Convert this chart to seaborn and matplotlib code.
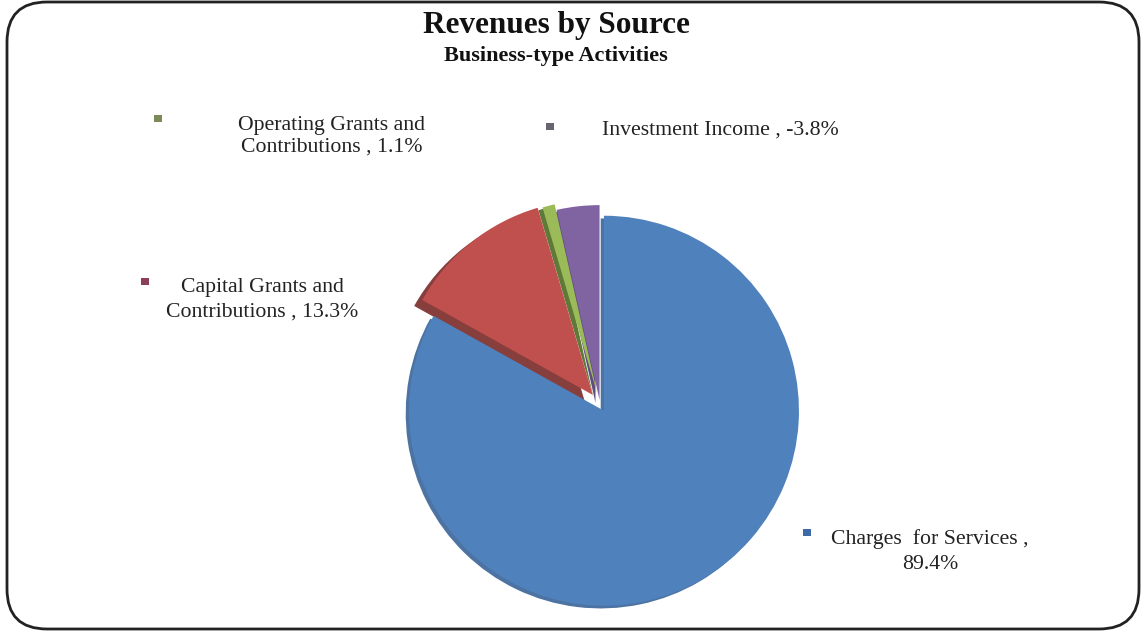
import matplotlib
matplotlib.use("Agg")
import matplotlib.pyplot as plt
import seaborn as sns
from matplotlib.patches import FancyBboxPatch, Shadow, Rectangle

# Revenue shares (percent) for business-type activities
sources = ["Charges for Services", "Capital Grants and\nContributions",
           "Operating Grants and\nContributions", "Investment Income"]
shares = [89.4, 13.3, 1.1, -3.8]
colors = ["#4F81BD", "#C0504D", "#9BBB59", "#8064A2"]
marker_colors = ["#3f6aa8", "#8c3f5a", "#7c8a5a", "#6a6470"]
explode = [0.04, 0.06, 0.05, 0.02]

sns.set_theme(style="white")
plt.rcParams["font.family"] = ["Liberation Serif", "DejaVu Serif"]

fig = plt.figure(figsize=(11.42, 6.32), dpi=100)
W, H = 1142, 632


def fx(px):
    return px / W


def fy(py):
    return 1 - py / H


# Rounded outer frame
frame = FancyBboxPatch((fx(7), fy(629)), fx(1132), 627 / H,
                       boxstyle="round,pad=0,rounding_size=0.035",
                       transform=fig.transFigure, fill=False,
                       edgecolor="#222222", linewidth=2.0,
                       mutation_aspect=W / H)
fig.patches.append(frame)

# Pie axes: centre (600, 404) px, radius ~195 px
cx, cy, r = 600, 404, 195
half = 1.1 * r
ax = fig.add_axes([fx(cx - half), fy(cy + half), 2 * half / W, 2 * half / H])

sizes = [abs(v) for v in shares]
wedges, _ = ax.pie(sizes, colors=colors, startangle=90, counterclock=False,
                   explode=explode, radius=1.0,
                   wedgeprops=dict(linewidth=0))
ax.set_xlim(-1.1, 1.1)
ax.set_ylim(-1.1, 1.1)
ax.set_aspect("equal")
ax.axis("off")

# Depth effect under each slice
shadow_colors = ["#3a6498", "#7a2a28", "#4d6a22", "#4f3a70"]
shadow_offsets = [(-0.012, -0.01), (-0.03, -0.022), (-0.015, -0.01), (-0.015, -0.01)]
for w, sc, (ox, oy) in zip(wedges, shadow_colors, shadow_offsets):
    sh = Shadow(w, ox, oy, facecolor=sc, alpha=0.9, zorder=w.get_zorder() - 0.1)
    ax.add_patch(sh)

# Titles
fig.text(fx(556), fy(33), "Revenues by Source", ha="center", va="baseline",
         fontsize=22.5, fontweight="bold", color="#111111")
fig.text(fx(556), fy(61), "Business-type Activities", ha="center", va="baseline",
         fontsize=16, fontweight="bold", color="#111111")

# Category labels with small colour keys
lab_fs = 15.7
lines_ops = ["Operating Grants and", f"Contributions , {shares[2]:.1f}%"]
for txt, base in zip(lines_ops, [130, 152]):
    fig.text(fx(332), fy(base), txt, ha="center", va="baseline", fontsize=lab_fs, color="#222222")

fig.text(fx(720), fy(135), f"Investment Income , {shares[3]:.1f}%", ha="center",
         va="baseline", fontsize=lab_fs, color="#222222")

lines_cap = ["Capital Grants and", f"Contributions , {shares[1]:.1f}%"]
for txt, base in zip(lines_cap, [292, 317]):
    fig.text(fx(262), fy(base), txt, ha="center", va="baseline", fontsize=lab_fs, color="#222222")

lines_chg = ["Charges  for Services ,", f"{shares[0]:.1f}%"]
for txt, base in zip(lines_chg, [544, 569]):
    fig.text(fx(930), fy(base), txt, ha="center", va="baseline", fontsize=lab_fs, color="#222222")

# Colour keys: (x, y) centres in px, order matches sources
key_pos = [(807, 532), (145, 281), (158, 118), (550, 126)]
for (kx, ky), kc in zip(key_pos, marker_colors):
    fig.patches.append(Rectangle((fx(kx - 4), fy(ky + 3.5)), 8 / W, 7 / H,
                                 transform=fig.transFigure, facecolor=kc,
                                 edgecolor="none"))

fig.savefig("out.png", dpi=100, facecolor="white")
